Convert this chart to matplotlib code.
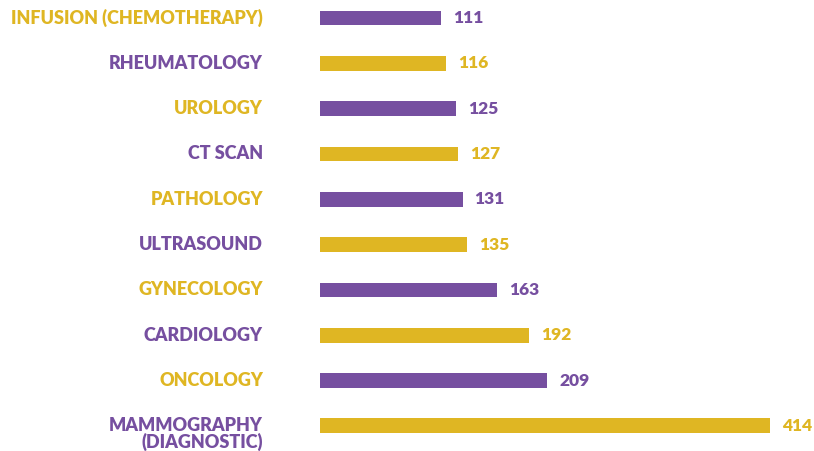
import matplotlib
matplotlib.use("Agg")
import matplotlib.pyplot as plt
from matplotlib import transforms

categories = ["INFUSION (CHEMOTHERAPY)", "RHEUMATOLOGY", "UROLOGY", "CT SCAN",
              "PATHOLOGY", "ULTRASOUND", "GYNECOLOGY", "CARDIOLOGY", "ONCOLOGY",
              "MAMMOGRAPHY\n(DIAGNOSTIC)"]
values = [111, 116, 125, 127, 131, 135, 163, 192, 209, 414]

PURPLE = "#764fa0"
YELLOW = "#dfb623"
bar_colors = [PURPLE if i % 2 == 0 else YELLOW for i in range(len(values))]
label_colors = [YELLOW if i % 2 == 0 else PURPLE for i in range(len(values))]

plt.rcParams['font.family'] = ['Lato', 'DejaVu Sans']

fig = plt.figure(figsize=(8.14, 4.51), dpi=100)
ax = fig.add_axes([320 / 814, 0, 494 / 814, 1])
ax.set_xlim(0, 454)
ax.set_ylim(9.552, -0.397)
ax.axis('off')

ypos = list(range(len(values)))
ax.barh(ypos, values, height=0.33, color=bar_colors, left=0)

for i, (cat, v) in enumerate(zip(categories, values)):
    # category label
    tr = transforms.offset_copy(ax.transData, fig=fig, x=-57, y=0, units='dots')
    if "\n" in cat:
        trl = transforms.offset_copy(ax.transData, fig=fig, x=-57, y=9, units='dots')
        ax.text(0, i, cat, transform=trl, ha='right', va='top', fontsize=13,
                fontweight='heavy', color=label_colors[i], linespacing=0.95,
                multialignment='right')
    else:
        ax.text(0, i, cat, transform=tr, ha='right', va='center', fontsize=13,
                fontweight='heavy', color=label_colors[i])
    trv = transforms.offset_copy(ax.transData, fig=fig, x=12, y=0, units='dots')
    ax.text(v, i, str(v), transform=trv, ha='left', va='center', fontsize=12.5,
            fontweight='heavy', color=bar_colors[i])

fig.savefig("out.png", dpi=100, facecolor='white')
